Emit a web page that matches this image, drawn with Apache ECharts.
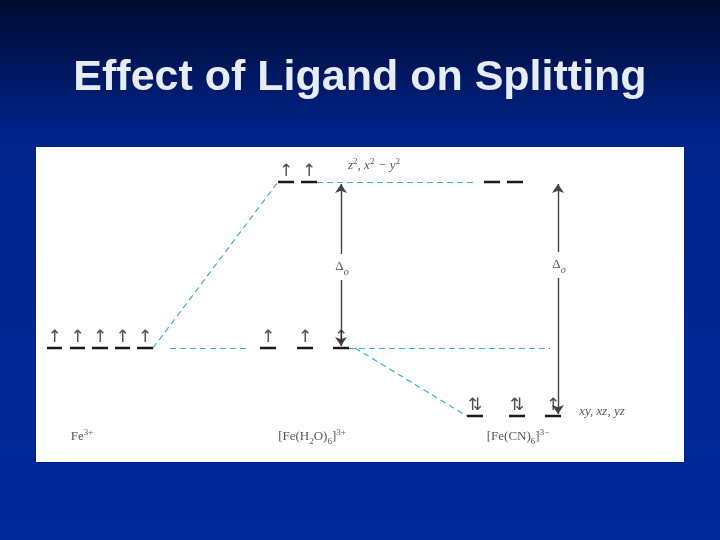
<!DOCTYPE html>
<html><head><meta charset="utf-8">
<script src="https://cdn.jsdelivr.net/npm/echarts@6/dist/echarts.min.js"></script>
<style>html,body{margin:0;padding:0;background:#001f7a}#c{width:720px;height:540px}</style>
</head><body><div id="c"></div>
<script>
// energies (diagram units, 0 = bottom of panel)
const E_EG = 280, E_BARY = 114, E_T2G_CN = 46;
// orbital segments: [x0, x1, energy, electrons]
const ionOrbitals = [[11,26,E_BARY,'↑'],[34,49,E_BARY,'↑'],[56,72,E_BARY,'↑'],[79,94,E_BARY,'↑'],[101,117,E_BARY,'↑']];
const h2oOrbitals = [[242,258,E_EG,'↑'],[265,281,E_EG,'↑'],[224,240,E_BARY,'↑'],[261,277,E_BARY,'↑'],[297,313,E_BARY,'↑']];
const cnOrbitals = [[448,464,E_EG,''],[471,487,E_EG,''],[431,447,E_T2G_CN,'⇅'],[473,489,E_T2G_CN,'⇅'],[509,525,E_T2G_CN,'↑']];
const connectors = [[[117,E_BARY],[242,E_EG]],[[134,E_BARY],[211,E_BARY]],[[281,E_EG],[437,E_EG]],[[313,E_BARY],[514,E_BARY]],[[319,E_BARY],[431,E_T2G_CN]]];
// [x, top, bottom, label energy]
const splitArrows = [[305,E_EG,E_BARY,195],[522,E_EG,E_T2G_CN,197]];
const ionLabels = [
  [46,25,'Fe{sup|3+}'],
  [276,25,'[Fe(H{sub|2}O){sub|6}]{sup|3+}'],
  [482,25,'[Fe(CN){sub|6}]{sup|3−}']
];

const orbitals = ionOrbitals.concat(h2oOrbitals, cnOrbitals);
const serif = 'Liberation Serif';
const ink = '#2a2a2a';
const rich = {sup:{fontSize:9,verticalAlign:'top',padding:[0,0,8,0],fontFamily:serif,color:ink},
              sub:{fontSize:9,padding:[9,0,0,0],fontFamily:serif,color:ink},
              o:{fontSize:10,fontStyle:'italic',padding:[10,0,0,0],fontFamily:serif,color:ink}};

const arrowSegs = [];
const deltaPts = [];
splitArrows.forEach(([x,top,bot,mid]) => {
  arrowSegs.push({coords:[[x,mid+13],[x,top-2]],symbol:['none','arrow']});
  arrowSegs.push({coords:[[x,mid-13],[x,bot+2]],symbol:['none','arrow']});
  deltaPts.push([x+1,mid]);
});

const chart = echarts.init(document.getElementById('c'));
chart.setOption({
  backgroundColor: new echarts.graphic.LinearGradient(0,0,0,1,[{offset:0,color:'#000a2e'},{offset:0.25,color:'#00248c'},{offset:1,color:'#00289a'}]),
  graphic:[
    {type:'text',left:'center',top:57,style:{text:'Effect of Ligand on Splitting',fill:'#e8ecf6',font:'bold 43px "Liberation Sans", Arial',
      shadowColor:'rgba(0,0,0,0.7)',shadowBlur:2,shadowOffsetX:2,shadowOffsetY:2}},
    {type:'rect',shape:{x:36,y:147,width:648,height:315},style:{fill:'#ffffff'},z:-1}
  ],
  grid:{left:36,top:147,width:648,height:315},
  xAxis:{type:'value',min:0,max:648,show:false},
  yAxis:{type:'value',min:0,max:315,show:false},
  series:[
    {type:'lines',coordinateSystem:'cartesian2d',z:2,
     lineStyle:{color:'#38b0d4',width:1.2,type:[6,4],opacity:1},
     data:connectors.map(c=>({coords:c}))},
    {type:'lines',coordinateSystem:'cartesian2d',z:3,symbolSize:9,
     lineStyle:{color:'#444',width:1.4,opacity:1},
     data:arrowSegs.map(a=>({coords:a.coords,symbol:a.symbol}))},
    {type:'lines',coordinateSystem:'cartesian2d',z:4,
     lineStyle:{color:'#1a1a1a',width:2.4,opacity:1},
     data:orbitals.map(o=>({coords:[[o[0],o[2]],[o[1],o[2]]]}))},
    {type:'scatter',symbolSize:0,z:5,
     data:orbitals.filter(o=>o[3]).map(o=>[(o[0]+o[1])/2,o[2],o[3]]),
     label:{show:true,position:'inside',offset:[0,-10],formatter:p=>p.value[2],fontSize:17,color:'#222',
       fontFamily:'DejaVu Sans'}},
    {type:'scatter',symbolSize:0,z:5,
     data:deltaPts.map(p=>[p[0],p[1]]),
     label:{show:true,position:'inside',formatter:'Δ{o|o}',fontSize:13,color:ink,fontFamily:serif,rich:rich}},
    {type:'scatter',symbolSize:0,z:5,
     data:ionLabels.map(l=>[l[0],l[1],l[2]]),
     label:{show:true,position:'inside',formatter:p=>p.value[2],fontSize:13,color:ink,fontFamily:serif,rich:rich}},
    {type:'scatter',symbolSize:0,z:5,
     data:[[338,E_EG+16,'{i|z}{sup|2}{i|, x}{sup|2}{i| − y}{sup|2}'],[566,E_T2G_CN+4,'{i|xy, xz, yz}']],
     label:{show:true,position:'inside',formatter:p=>p.value[2],fontSize:13,color:ink,fontFamily:serif,
       rich:Object.assign({i:{fontStyle:'italic',fontSize:13,fontFamily:serif,color:ink}},rich)}}
  ]
});
</script></body></html>
